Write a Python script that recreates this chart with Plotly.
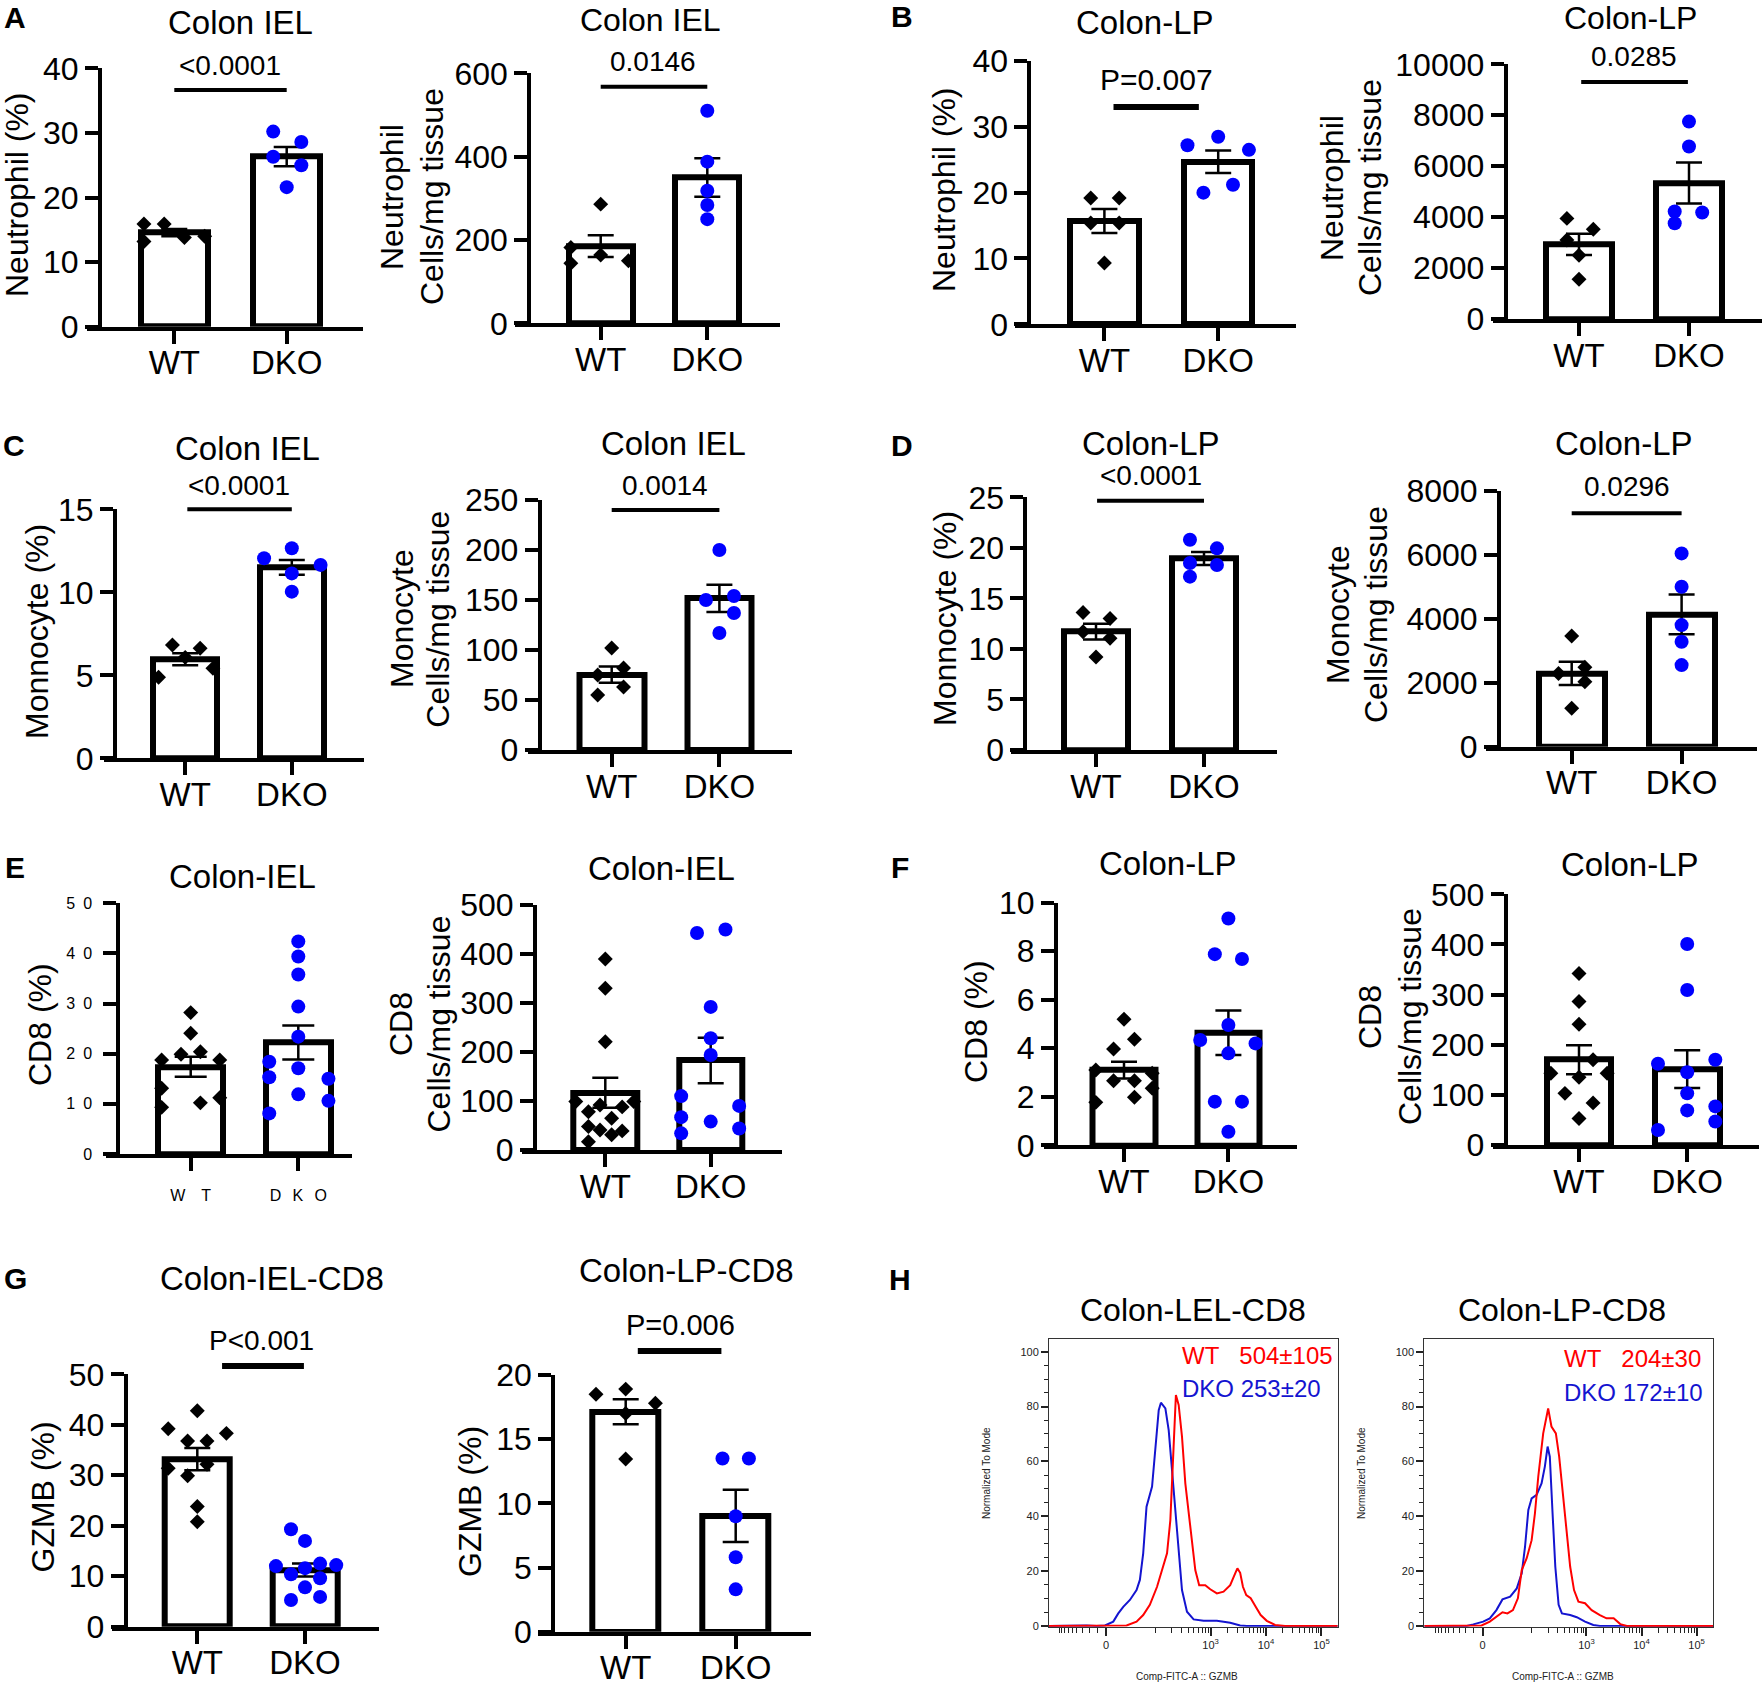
import numpy as np
import plotly.graph_objects as go

W, H = 1764, 1685
FONT = "Liberation Sans, Arial, Helvetica, sans-serif"
BLUE = "#0000FF"
HRED = "#FF0000"
HBLUE = "#1414D0"

CATEGORIES = ["WT", "DKO"]

# ---------------- data ----------------
# A  Colon IEL neutrophil
A1_WT = [15.9, 15.9, 13.2, 13.8, 14.0]
A1_WT_JIT = [-0.27, -0.09, -0.27, 0.09, 0.27]
A1_DKO = [30.2, 28.6, 26.3, 25.0, 21.6]
A1_DKO_JIT = [-0.12, 0.13, -0.12, 0.13, 0.0]
A2_WT = [286, 182, 164, 144, 150]
A2_WT_JIT = [0.0, -0.28, 0.0, -0.28, 0.26]
A2_DKO = [510, 388, 318, 284, 250]
A2_DKO_JIT = [0.0, 0.0, 0.0, 0.0, 0.0]
# B  Colon-LP neutrophil
B1_WT = [19.2, 19.2, 15.4, 15.4, 9.3]
B1_WT_JIT = [-0.12, 0.13, -0.12, 0.13, 0.0]
B1_DKO = [28.5, 27.2, 26.5, 21.2, 20.0]
B1_DKO_JIT = [0.0, -0.27, 0.27, 0.13, -0.13]
B2_WT = [3950, 3520, 3100, 2500, 1560]
B2_WT_JIT = [-0.11, 0.13, -0.11, 0.0, 0.0]
B2_DKO = [7750, 6770, 4220, 4180, 3760]
B2_DKO_JIT = [0.0, 0.0, -0.13, 0.12, -0.13]
# C  Colon IEL monocyte
C1_WT = [6.83, 6.63, 6.08, 4.88, 5.42]
C1_WT_JIT = [-0.12, 0.14, 0.0, -0.25, 0.26]
C1_DKO = [12.65, 12.05, 11.65, 11.14, 10.04]
C1_DKO_JIT = [0.0, -0.26, 0.27, 0.0, 0.0]
C2_WT = [102, 75, 82, 63, 55]
C2_WT_JIT = [0.0, -0.13, 0.11, 0.11, -0.13]
C2_DKO = [200, 150, 154, 137, 117]
C2_DKO_JIT = [0.0, -0.125, 0.135, 0.135, 0.0]
# D  Colon-LP monocyte
D1_WT = [13.6, 13.0, 11.7, 11.05, 9.2]
D1_WT_JIT = [-0.12, 0.13, -0.12, 0.13, 0.0]
D1_DKO = [20.8, 19.95, 18.5, 18.3, 17.15]
D1_DKO_JIT = [-0.13, 0.12, -0.13, 0.12, -0.13]
D2_WT = [3460, 2480, 2290, 2030, 1200]
D2_WT_JIT = [0.0, 0.12, -0.12, 0.12, 0.0]
D2_DKO = [6040, 5000, 3800, 3280, 2550]
D2_DKO_JIT = [0.0, 0.0, 0.0, 0.0, 0.0]
# E  Colon-IEL CD8
E1_WT = [28.2, 24.1, 19.9, 20.4, 18.75, 18.75, 13.1, 9.3, 10.2, 11.2]
E1_WT_JIT = [0.0, 0.0, -0.09, 0.09, -0.27, 0.27, -0.27, -0.27, 0.09, 0.27]
E1_DKO = [42.4, 39.4, 35.8, 29.4, 23.4, 18.4, 15.3, 17.1, 15.0, 11.9, 10.6, 8.1]
E1_DKO_JIT = [0.0, 0.0, 0.0, 0.0, 0.0, -0.27, -0.27, 0.0, 0.28, 0.0, 0.28, -0.27]
E2_WT = [390, 330, 221, 99, 99, 92, 88, 78, 65, 48, 41, 39, 31, 17]
E2_WT_JIT = [0.0, 0.0, 0.0, -0.28, 0.27, -0.05, 0.16, -0.16, 0.06, -0.16, -0.05, 0.16, 0.06, -0.16]
E2_DKO = [443, 450, 292, 228, 194, 110, 67, 34, 58, 90, 44]
E2_DKO_JIT = [-0.13, 0.14, 0.0, 0.0, 0.0, -0.28, -0.28, -0.28, 0.0, 0.27, 0.27]
# F  Colon-LP CD8
F1_WT = [5.2, 4.37, 3.97, 3.1, 2.97, 2.66, 2.66, 2.35, 1.98, 1.77]
F1_WT_JIT = [0.0, 0.1, -0.1, -0.27, 0.27, -0.1, 0.1, 0.27, 0.1, -0.27]
F1_DKO = [9.35, 7.88, 7.68, 4.96, 4.34, 4.2, 3.79, 1.8, 1.8, 0.56]
F1_DKO_JIT = [0.0, -0.13, 0.13, 0.0, -0.27, 0.26, 0.0, -0.13, 0.13, 0.0]
F2_WT = [342, 286, 241, 170, 143, 143, 135, 103, 84, 53]
F2_WT_JIT = [0.0, 0.0, 0.0, 0.13, -0.26, 0.26, 0.0, -0.13, 0.13, 0.0]
F2_DKO = [401, 309, 162, 170, 145, 103, 69, 77, 47, 30]
F2_DKO_JIT = [0.0, 0.0, -0.27, 0.26, 0.0, 0.0, 0.0, 0.26, 0.26, -0.27]
# G  GZMB in CD8
G1_WT = [42.8, 39.2, 38.3, 36.8, 36.8, 32.2, 31.4, 29.9, 23.8, 20.8]
G1_WT_JIT = [0.0, -0.27, 0.27, -0.09, 0.09, 0.09, -0.27, -0.09, 0.0, 0.0]
G1_DKO = [19.3, 17.0, 12.0, 12.5, 12.2, 10.4, 11.6, 9.6, 7.8, 5.3, 5.9]
G1_DKO_JIT = [-0.13, 0.0, -0.27, 0.14, 0.29, -0.13, 0.0, 0.14, 0.0, -0.13, 0.14]
G2_WT = [18.5, 18.9, 17.8, 17.0, 13.45]
G2_WT_JIT = [-0.27, 0.0, 0.27, 0.0, 0.0]
G2_DKO = [13.5, 13.5, 9.0, 5.8, 3.3]
G2_DKO_JIT = [-0.12, 0.12, 0.0, 0.0, 0.0]

# H  GZMB histograms (x in biexponential display units, y = % of mode)
H1_WT_X = [-1.03, 0.37, 0.55, 0.67, 0.79, 0.92, 1.01, 1.10, 1.16, 1.19, 1.23, 1.26, 1.31, 1.37, 1.43,
           1.49, 1.55, 1.61, 1.68, 1.79, 1.88, 2.00, 2.12, 2.24, 2.33, 2.37, 2.42, 2.47, 2.53, 2.61,
           2.70, 2.79, 2.90, 3.05, 3.23, 4.18]
H1_WT_Y = [0, 0.2, 1.6, 4.0, 7.7, 14.3, 20.4, 26.5, 38.6, 53.2, 72.7, 84.2, 80.6, 69.0, 52.0,
           41.1, 28.9, 20.4, 14.9, 14.9, 13.4, 11.9, 12.5, 14.9, 19.2, 21.0, 19.4, 14.3, 11.3, 10.1,
           7.0, 4.0, 1.9, 0.4, 0, 0]
H1_DKO_X = [-1.03, -0.59, -0.35, -0.17, -0.02, 0.13, 0.22, 0.31, 0.43, 0.55, 0.61, 0.67, 0.73, 0.83,
            0.89, 0.95, 0.99, 1.07, 1.13, 1.19, 1.25, 1.31, 1.37, 1.46, 1.58, 1.76, 2.00, 2.24, 2.42,
            2.54, 4.18]
H1_DKO_Y = [0, 0.2, 0.2, 0, 0.2, 1.6, 4.6, 7.0, 9.5, 13.1, 16.8, 26.5, 43.5, 50.8,
            65.4, 78.7, 81.4, 79.3, 71.4, 56.9, 41.1, 26.5, 13.1, 5.2, 2.4, 1.9, 1.9, 1.2, 0.2,
            0, 0]
H2_WT_X = [-1.06, -0.17, -0.02, 0.13, 0.25, 0.36, 0.45, 0.55, 0.64, 0.71, 0.80, 0.89, 0.95, 1.01,
           1.10, 1.19, 1.25, 1.33, 1.39, 1.45, 1.52, 1.59, 1.66, 1.74, 1.86, 1.98, 2.13, 2.25, 2.38,
           2.50, 2.62, 4.19]
H2_WT_Y = [0, 0, 0.2, 1.6, 3.4, 5.0, 4.6, 5.8, 10.1, 20.4, 24.7, 31.3, 41.1, 54.4,
           70.2, 79.3, 72.7, 70.2, 61.7, 49.6, 36.2, 21.6, 13.1, 8.9, 8.3, 5.8, 4.0, 2.8, 2.8,
           0.7, 0, 0]
H2_DKO_X = [-1.06, -0.29, -0.17, 0.01, 0.13, 0.25, 0.36, 0.50, 0.62, 0.71, 0.77, 0.83, 0.89, 0.98,
            1.07, 1.13, 1.18, 1.22, 1.27, 1.32, 1.38, 1.44, 1.59, 1.71, 1.86, 2.01, 2.13, 4.19]
H2_DKO_Y = [0, 0, 0.6, 1.6, 2.8, 5.8, 9.7, 10.7, 13.7, 19.2, 28.9, 42.3, 46.5, 47.8,
            52.0, 58.1, 65.4, 61.7, 41.1, 21.6, 7.7, 4.6, 4.0, 3.2, 1.6, 0.4, 0, 0]
H1_LEGEND = [("WT\u00a0\u00a0\u00a0504±105", HRED), ("DKO 253±20", HBLUE)]
H2_LEGEND = [("WT\u00a0\u00a0\u00a0204±30", HRED), ("DKO 172±10", HBLUE)]
LOGICLE_W = 26.0

# ---------------- layout (pixel positions) ----------------
PANELS = [
    dict(wt=A1_WT, wtj=A1_WT_JIT, dko=A1_DKO, dkoj=A1_DKO_JIT, yx=100, xl=87, xr=363, y0=326.7, ytop=68.3,
         ymax=40, dtick=10, wtpx=174.3, dkopx=286.7, title=("Colon IEL", 240, 23, 33),
         ytitle=[("Neutrophil (%)", 17, 195)], pval=("<0.0001", 230, 65, 28), sig=(0.0, 1.0, 90, 4)),
    dict(wt=A2_WT, wtj=A2_WT_JIT, dko=A2_DKO, dkoj=A2_DKO_JIT, yx=529.3, xl=515, xr=780, y0=323.3, ytop=73.3,
         ymax=600, dtick=200, wtpx=600.7, dkopx=707.3, title=("Colon IEL", 650, 20, 32),
         ytitle=[("Neutrophil", 392, 197), ("Cells/mg tissue", 432, 197)], pval=("0.0146", 653, 61, 28),
         sig=(0.0, 1.0, 86.7, 4)),
    dict(wt=B1_WT, wtj=B1_WT_JIT, dko=B1_DKO, dkoj=B1_DKO_JIT, yx=1029.4, xl=1015, xr=1296, y0=324.3, ytop=61,
         ymax=40, dtick=10, wtpx=1104.4, dkopx=1218.2, title=("Colon-LP", 1145, 22, 33),
         ytitle=[("Neutrophil (%)", 944, 190)], pval=("P=0.007", 1156, 79, 30), sig=(0.08, 0.83, 107, 6)),
    dict(wt=B2_WT, wtj=B2_WT_JIT, dko=B2_DKO, dkoj=B2_DKO_JIT, yx=1505.7, xl=1493, xr=1762, y0=319, ytop=64.3,
         ymax=10000, dtick=2000, wtpx=1579, dkopx=1689, title=("Colon-LP", 1630, 18, 32),
         ytitle=[("Neutrophil", 1332, 188), ("Cells/mg tissue", 1370, 188)], pval=("0.0285", 1634, 57, 28),
         sig=(0.02, 0.99, 82, 4)),
    dict(wt=C1_WT, wtj=C1_WT_JIT, dko=C1_DKO, dkoj=C1_DKO_JIT, yx=115, xl=104, xr=363.6, y0=758.3, ytop=509.3,
         ymax=15, dtick=5, wtpx=185.2, dkopx=291.8, title=("Colon IEL", 247, 448, 33),
         ytitle=[("Monnocyte (%)", 37, 632)], pval=("<0.0001", 238.5, 485, 28), sig=(0.02, 1.0, 509.3, 4)),
    dict(wt=C2_WT, wtj=C2_WT_JIT, dko=C2_DKO, dkoj=C2_DKO_JIT, yx=539.8, xl=527.5, xr=792.4, y0=750, ytop=500,
         ymax=250, dtick=50, wtpx=611.7, dkopx=719.4, title=("Colon IEL", 673, 443, 33),
         ytitle=[("Monocyte", 402, 619), ("Cells/mg tissue", 437.7, 619)], pval=("0.0014", 665, 485, 28),
         sig=(0.0, 1.0, 510, 4)),
    dict(wt=D1_WT, wtj=D1_WT_JIT, dko=D1_DKO, dkoj=D1_DKO_JIT, yx=1025.4, xl=1011, xr=1277.4, y0=750, ytop=497.3,
         ymax=25, dtick=5, wtpx=1096, dkopx=1204, title=("Colon-LP", 1150.6, 443, 33),
         ytitle=[("Monnocyte (%)", 945, 619)], pval=("<0.0001", 1150.6, 475, 28), sig=(0.01, 1.0, 500.7, 4)),
    dict(wt=D2_WT, wtj=D2_WT_JIT, dko=D2_DKO, dkoj=D2_DKO_JIT, yx=1499, xl=1486, xr=1756.5, y0=746.7, ytop=490.7,
         ymax=8000, dtick=2000, wtpx=1571.7, dkopx=1681.6, title=("Colon-LP", 1624, 443, 33),
         ytitle=[("Monocyte", 1338, 615), ("Cells/mg tissue", 1376, 615)], pval=("0.0296", 1627, 486.7, 28),
         sig=(0.0, 1.0, 513.3, 4)),
    dict(wt=E1_WT, wtj=E1_WT_JIT, dko=E1_DKO, dkoj=E1_DKO_JIT, yx=118.3, xl=106, xr=352, y0=1154, ytop=903.3,
         ymax=50, dtick=10, wtpx=190.7, dkopx=298.3, title=("Colon-IEL", 243, 876.7, 33),
         ytitle=[("CD8 (%)", 40, 1025)], pval=None, sig=None, small=True),
    dict(wt=E2_WT, wtj=E2_WT_JIT, dko=E2_DKO, dkoj=E2_DKO_JIT, yx=535, xl=522.3, xr=781.7, y0=1150, ytop=905,
         ymax=500, dtick=100, wtpx=605.3, dkopx=710.7, title=("Colon-IEL", 661.7, 868.3, 33),
         ytitle=[("CD8", 401, 1024), ("Cells/mg tissue", 438.5, 1024)], pval=None, sig=None),
    dict(wt=F1_WT, wtj=F1_WT_JIT, dko=F1_DKO, dkoj=F1_DKO_JIT, yx=1055.9, xl=1043.5, xr=1297, y0=1145.3,
         ytop=902.7, ymax=10, dtick=2, wtpx=1124, dkopx=1228.4, title=("Colon-LP", 1167.5, 863.3, 33),
         ytitle=[("CD8 (%)", 976, 1022)], pval=None, sig=None),
    dict(wt=F2_WT, wtj=F2_WT_JIT, dko=F2_DKO, dkoj=F2_DKO_JIT, yx=1505.7, xl=1493, xr=1759.4, y0=1145,
         ytop=894.3, ymax=500, dtick=100, wtpx=1579, dkopx=1687.2, title=("Colon-LP", 1629.7, 865, 33),
         ytitle=[("CD8", 1370, 1017), ("Cells/mg tissue", 1410, 1017)], pval=None, sig=None),
    dict(wt=G1_WT, wtj=G1_WT_JIT, dko=G1_DKO, dkoj=G1_DKO_JIT, yx=125.7, xl=111.7, xr=379.3, y0=1626.7,
         ytop=1374.3, ymax=50, dtick=10, wtpx=197.3, dkopx=305, title=("Colon-IEL-CD8", 271.7, 1278.3, 33),
         ytitle=[("GZMB (%)", 42.5, 1497)], pval=("P<0.001", 261.7, 1340, 28), sig=(0.23, 0.99, 1366, 6)),
    dict(wt=G2_WT, wtj=G2_WT_JIT, dko=G2_DKO, dkoj=G2_DKO_JIT, yx=553.3, xl=538.3, xr=810.7, y0=1631.7,
         ytop=1375, ymax=20, dtick=5, wtpx=625.7, dkopx=735.7, title=("Colon-LP-CD8", 686.7, 1270, 33),
         ytitle=[("GZMB (%)", 470, 1501)], pval=("P=0.006", 680, 1325, 29), sig=(0.11, 0.87, 1351, 6)),
]

HIST = [
    dict(wt=(H1_WT_X, H1_WT_Y), dko=(H1_DKO_X, H1_DKO_Y), xl=1049, xr=1337.7, yt=1339.3, yb=1626.7,
         xrange=[-1.03, 4.18], title=("Colon-LEL-CD8", 1193.3, 1310), legend=H1_LEGEND, leg_xy=(1180, 1355, 1388),
         ytitle=(986.7, 1473.3), xtitle=(1186.7, 1676.7)),
    dict(wt=(H2_WT_X, H2_WT_Y), dko=(H2_DKO_X, H2_DKO_Y), xl=1424.3, xr=1713.3, yt=1339.3, yb=1626.7,
         xrange=[-1.06, 4.19], title=("Colon-LP-CD8", 1561.7, 1310), legend=H2_LEGEND, leg_xy=(1561.7, 1358, 1392),
         ytitle=(1361.7, 1473.3), xtitle=(1563.3, 1676.7)),
]

LETTERS = [("A", 15, 18), ("B", 902, 16), ("C", 14, 446), ("D", 902, 446),
           ("E", 15, 867), ("F", 900, 867), ("G", 15, 1278), ("H", 900, 1279)]


def fx(px):
    return px / W


def fy(py):
    return 1 - py / H


def stats(v):
    a = np.asarray(v, dtype=float)
    return a.mean(), a.std(ddof=1) / np.sqrt(len(a))


fig = go.Figure()
layout = dict(width=W, height=H, margin=dict(l=0, r=0, t=0, b=0, pad=0, autoexpand=False), showlegend=False,
              plot_bgcolor="white", paper_bgcolor="white", font=dict(family=FONT, color="black"),
              bargap=0, template="none")
annotations = []
shapes = []


def ann(text, x, y, size, angle=0, color="black", xanchor="center"):
    annotations.append(dict(text=text, x=fx(x), y=fy(y), xref="paper", yref="paper", showarrow=False,
                            textangle=angle, xanchor=xanchor, yanchor="middle",
                            font=dict(family=FONT, size=size, color=color)))


for i, p in enumerate(PANELS, start=1):
    s = p["dkopx"] - p["wtpx"]
    small = p.get("small", False)
    mw, sw = stats(p["wt"])
    md, sd = stats(p["dko"])
    xa, ya = f"x{i}", f"y{i}"
    fig.add_trace(go.Bar(x=[0, 1], y=[mw, md], width=0.6, xaxis=xa, yaxis=ya,
                         marker=dict(color="white", line=dict(color="black", width=6)),
                         error_y=dict(type="data", array=[sw, sd], symmetric=True, color="black",
                                      thickness=2.5, width=13 if not small else 16),
                         hoverinfo="skip"))
    fig.add_trace(go.Scatter(x=[0 + j for j in p["wtj"]], y=p["wt"], mode="markers", xaxis=xa, yaxis=ya,
                             marker=dict(symbol="diamond", size=11.5, color="black"), cliponaxis=False))
    fig.add_trace(go.Scatter(x=[1 + j for j in p["dkoj"]], y=p["dko"], mode="markers", xaxis=xa, yaxis=ya,
                             marker=dict(symbol="circle", size=14, color=BLUE), cliponaxis=False))
    xaxis = dict(domain=[fx(p["xl"]), fx(p["xr"])],
                 range=[(p["xl"] - p["wtpx"]) / s, (p["xr"] - p["wtpx"]) / s],
                 anchor=ya, tickmode="array", tickvals=[0, 1], ticktext=CATEGORIES, automargin=False,
                 showline=True, linecolor="black", linewidth=4, ticks="outside", ticklen=13,
                 tickwidth=4, tickcolor="black", showgrid=False, zeroline=False, ticklabelstandoff=-9,
                 tickfont=dict(family=FONT, size=33, color="black"))
    yaxis = dict(domain=[fy(p["y0"]), fy(p["ytop"])], range=[0, p["ymax"]], anchor="free",
                 position=fx(p["yx"]), tickmode="linear", tick0=0, dtick=p["dtick"], tickformat="d",
                 showline=True, linecolor="black", linewidth=4, ticks="outside", ticklen=13,
                 tickwidth=4, tickcolor="black", showgrid=False, zeroline=False, automargin=False,
                 tickfont=dict(family=FONT, size=32, color="black"))
    if small:
        vals = list(range(0, p["ymax"] + 1, p["dtick"]))
        yaxis.update(tickmode="array", tickvals=vals,
                     ticktext=[str(v) if v < 10 else "\u2002".join(str(v)) for v in vals],
                     tickfont=dict(family=FONT, size=16, color="black"), ticklabelstandoff=8)
        xaxis.update(ticktext=["W\u2003T", "D\u2002\u2009K\u2002\u2009O"],
                     tickfont=dict(family=FONT, size=16, color="black"), ticklabelstandoff=11)
    layout[f"xaxis{i}"] = xaxis
    layout[f"yaxis{i}"] = yaxis
    t, tx, ty, tsz = p["title"]
    ann(t, tx, ty, tsz)
    for yt, yx_, yy in p["ytitle"]:
        ann(yt, yx_, yy, 32, angle=-90)
    if p["pval"]:
        pt, px_, py_, psz = p["pval"]
        ann(pt, px_, py_, psz)
    if p["sig"]:
        x0, x1, sy, sw_ = p["sig"]
        shapes.append(dict(type="line", xref=xa, yref="paper", x0=x0, x1=x1, y0=fy(sy), y1=fy(sy),
                           line=dict(color="black", width=sw_)))


def disp(v):
    return np.arcsinh(np.asarray(v, dtype=float) / LOGICLE_W) / np.log(10)


major_v = [0, 1e3, 1e4, 1e5]
major_t = ["0", "10<sup>3</sup>", "10<sup>4</sup>", "10<sup>5</sup>"]
minor_v = ([-k for k in range(10, 100, 10)] + list(range(100, 1000, 100)) +
           list(range(2000, 10000, 1000)) + list(range(20000, 100000, 10000)))

n0 = len(PANELS)
for k, h in enumerate(HIST, start=1):
    i = n0 + k
    xa, ya = f"x{i}", f"y{i}"
    fig.add_trace(go.Scatter(x=h["dko"][0], y=h["dko"][1], mode="lines", xaxis=xa, yaxis=ya,
                             line=dict(color=HBLUE, width=2)))
    fig.add_trace(go.Scatter(x=h["wt"][0], y=h["wt"][1], mode="lines", xaxis=xa, yaxis=ya,
                             line=dict(color=HRED, width=2)))
    layout[f"xaxis{i}"] = dict(domain=[fx(h["xl"]), fx(h["xr"])], range=h["xrange"], anchor=ya,
                               tickmode="array", tickvals=list(disp(major_v)), ticktext=major_t,
                               showline=True, mirror=True, linecolor="#333", linewidth=1,
                               ticks="outside", ticklen=8, tickwidth=2, tickcolor="#222",
                               showgrid=False, zeroline=False, automargin=False,
                               minor=dict(tickmode="array", tickvals=list(disp(minor_v)), ticks="outside",
                                          ticklen=5, tickwidth=1, tickcolor="#222", showgrid=False),
                               tickfont=dict(family=FONT, size=11, color="#222"))
    layout[f"yaxis{i}"] = dict(domain=[fy(h["yb"]), fy(h["yt"])], range=[-0.25, 104.5], anchor=xa,
                               tickmode="linear", tick0=0, dtick=20,
                               showline=True, mirror=True, linecolor="#333", linewidth=1,
                               ticks="outside", ticklen=7, tickwidth=2, tickcolor="#222",
                               showgrid=False, zeroline=False, automargin=False,
                               minor=dict(tick0=0, dtick=5, ticks="outside", ticklen=4, tickwidth=1,
                                          tickcolor="#222", showgrid=False),
                               tickfont=dict(family=FONT, size=11, color="#222"))
    t, tx, ty = h["title"]
    ann(t, tx, ty, 32)
    lx, ly1, ly2 = h["leg_xy"]
    (t1, c1), (t2, c2) = h["legend"]
    ann(t1, lx, ly1, 24, color=c1, xanchor="left")
    ann(t2, lx, ly2, 24, color=c2, xanchor="left")
    ann("Normalized To Mode", h["ytitle"][0], h["ytitle"][1], 10, angle=-90, color="#222")
    ann("Comp-FITC-A :: GZMB", h["xtitle"][0], h["xtitle"][1], 10, color="#222")

for letter, lx, ly in LETTERS:
    ann(f"<b>{letter}</b>", lx, ly, 30)

layout["annotations"] = annotations
layout["shapes"] = shapes
fig.update_layout(**layout)
fig.write_html("out.html", config={"displayModeBar": False},
               post_script="document.body.style.margin='0';")
